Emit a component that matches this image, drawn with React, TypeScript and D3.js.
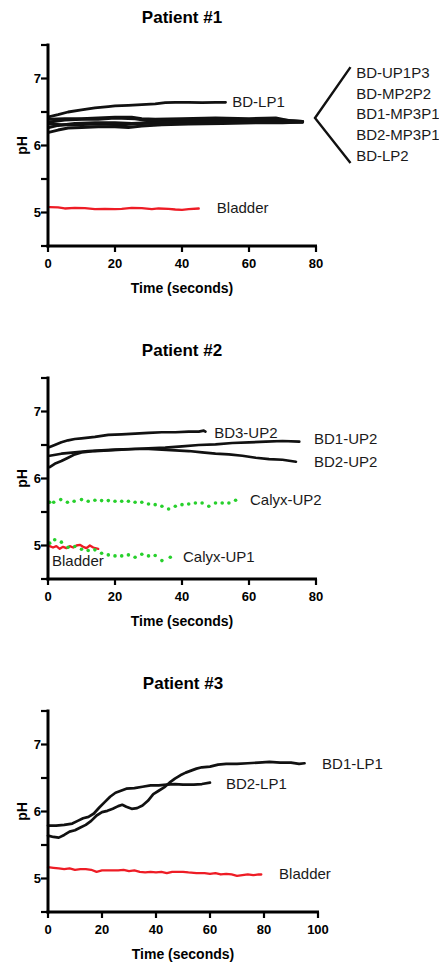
import React from 'react';
import * as d3 from 'd3';

type Pt = [number, number];

// ---- Patient #1 ----
const p1BDLP1: Pt[] = [[0.5, 6.43], [3, 6.46], [6, 6.5], [10, 6.53], [14, 6.56], [18, 6.58], [20, 6.59], [24, 6.6], [28, 6.61], [32, 6.62], [35, 6.64], [38, 6.645], [42, 6.645], [46, 6.64], [50, 6.645], [53, 6.645]];
const p1BDUP1P3: Pt[] = [[0.5, 6.39], [5, 6.4], [10, 6.4], [15, 6.41], [20, 6.42], [25, 6.42], [28, 6.4], [32, 6.39], [40, 6.4], [50, 6.41], [60, 6.4], [68, 6.41], [72, 6.37], [76, 6.36]];
const p1BDMP2P2: Pt[] = [[0.5, 6.35], [5, 6.38], [10, 6.39], [15, 6.39], [20, 6.41], [26, 6.4], [30, 6.37], [40, 6.38], [50, 6.39], [60, 6.38], [70, 6.38], [76, 6.36]];
const p1BD1MP3P1: Pt[] = [[0.5, 6.32], [4, 6.31], [8, 6.31], [15, 6.32], [22, 6.31], [28, 6.33], [36, 6.35], [46, 6.36], [56, 6.36], [66, 6.36], [76, 6.35]];
const p1BD2MP3P1: Pt[] = [[0.5, 6.27], [3, 6.3], [8, 6.33], [14, 6.34], [20, 6.34], [25, 6.33], [30, 6.34], [40, 6.35], [50, 6.35], [60, 6.35], [70, 6.35], [76, 6.35]];
const p1BDLP2: Pt[] = [[0.5, 6.2], [3, 6.23], [6, 6.26], [10, 6.27], [15, 6.28], [20, 6.28], [24, 6.27], [28, 6.29], [34, 6.31], [42, 6.32], [52, 6.33], [62, 6.34], [70, 6.34], [76, 6.35]];
const p1Bladder: Pt[] = [[0.5, 5.08], [3, 5.075], [5, 5.06], [8, 5.07], [11, 5.065], [14, 5.05], [17, 5.055], [20, 5.05], [22, 5.055], [25, 5.07], [28, 5.065], [31, 5.05], [33, 5.06], [36, 5.055], [38, 5.045], [40, 5.04], [42, 5.05], [45, 5.06]];
const p1BracketNames = ['BD-UP1P3', 'BD-MP2P2', 'BD1-MP3P1', 'BD2-MP3P1', 'BD-LP2'];

// ---- Patient #2 ----
const p2BD3UP2: Pt[] = [[0.5, 6.47], [2, 6.5], [4, 6.54], [6, 6.57], [8, 6.59], [10, 6.6], [14, 6.62], [18, 6.65], [22, 6.66], [26, 6.67], [30, 6.68], [34, 6.69], [38, 6.69], [42, 6.7], [45, 6.7], [46.5, 6.715], [47, 6.7]];
const p2BD1UP2: Pt[] = [[0.5, 6.34], [4, 6.37], [8, 6.39], [12, 6.41], [16, 6.42], [20, 6.43], [25, 6.44], [30, 6.45], [35, 6.46], [40, 6.48], [45, 6.5], [50, 6.51], [55, 6.53], [60, 6.54], [65, 6.55], [70, 6.56], [75, 6.55]];
const p2BD2UP2: Pt[] = [[0.5, 6.17], [2, 6.22], [4, 6.26], [6, 6.31], [8, 6.36], [10, 6.39], [14, 6.41], [18, 6.42], [22, 6.43], [26, 6.44], [30, 6.44], [34, 6.43], [38, 6.42], [42, 6.41], [46, 6.39], [50, 6.37], [54, 6.36], [58, 6.34], [62, 6.31], [66, 6.29], [70, 6.28], [74, 6.25]];
const p2CalyxUP2: Pt[] = [[0.5, 5.645], [1.7, 5.645], [3.8, 5.685], [5.8, 5.645], [7.8, 5.66], [10, 5.685], [12, 5.66], [14, 5.675], [16, 5.67], [18, 5.67], [20, 5.66], [22, 5.66], [24, 5.66], [26, 5.645], [28, 5.645], [30, 5.62], [32, 5.61], [34, 5.585], [36, 5.545], [38, 5.585], [40, 5.61], [42, 5.62], [44, 5.635], [46, 5.635], [48, 5.585], [50, 5.635], [52, 5.635], [54, 5.635], [56, 5.675]];
const p2CalyxUP1: Pt[] = [[0.5, 5.035], [2, 5.085], [4, 5.05], [6, 4.975], [8, 4.985], [10, 4.945], [12, 4.925], [14, 4.935], [16, 4.885], [18, 4.86], [20, 4.845], [22, 4.845], [24, 4.86], [26, 4.825], [28, 4.87], [30, 4.845], [32, 4.85], [34, 4.775], [36.5, 4.825]];
const p2Bladder: Pt[] = [[0.5, 4.99], [1.5, 4.97], [2.5, 4.99], [3.5, 4.95], [4.5, 4.98], [5.5, 4.96], [6.5, 4.99], [7.5, 4.97], [8.5, 5.0], [9.5, 5.01], [10.5, 4.98], [11.5, 4.96], [12.5, 5.0], [13.5, 4.97], [15, 4.95]];

// ---- Patient #3 ----
const p3BD1LP1: Pt[] = [[0, 5.64], [2, 5.62], [4, 5.61], [6, 5.65], [8, 5.7], [10, 5.72], [12, 5.76], [14, 5.8], [16, 5.86], [18, 5.94], [20, 5.99], [22, 6.01], [24, 6.04], [26, 6.08], [27.5, 6.1], [29, 6.07], [31, 6.04], [33, 6.05], [35, 6.09], [37, 6.16], [39, 6.26], [41, 6.31], [43, 6.36], [45, 6.43], [47, 6.49], [49, 6.54], [51, 6.58], [53, 6.61], [55, 6.64], [57, 6.66], [60, 6.67], [63, 6.7], [66, 6.71], [70, 6.71], [74, 6.72], [78, 6.73], [82, 6.74], [86, 6.73], [90, 6.73], [93, 6.71], [95, 6.72]];
const p3BD2LP1: Pt[] = [[0, 5.79], [3, 5.79], [6, 5.8], [9, 5.82], [11, 5.86], [13, 5.9], [15, 5.92], [17, 5.97], [19, 6.06], [21, 6.14], [23, 6.22], [25, 6.28], [27, 6.31], [29, 6.34], [32, 6.35], [35, 6.37], [38, 6.39], [41, 6.39], [44, 6.4], [47, 6.41], [50, 6.4], [54, 6.4], [57, 6.41], [60, 6.43]];
const p3Bladder: Pt[] = [[0, 5.17], [2, 5.16], [4, 5.15], [6, 5.14], [8, 5.15], [10, 5.13], [12, 5.14], [14, 5.14], [16, 5.13], [18, 5.1], [20, 5.12], [23, 5.12], [26, 5.12], [28, 5.13], [30, 5.11], [32, 5.12], [34, 5.1], [36, 5.09], [38, 5.1], [40, 5.09], [42, 5.1], [44, 5.08], [46, 5.1], [48, 5.1], [50, 5.1], [52, 5.09], [55, 5.08], [58, 5.08], [60, 5.07], [62, 5.08], [64, 5.06], [66, 5.07], [68, 5.06], [70, 5.04], [72, 5.05], [74, 5.06], [76, 5.05], [78, 5.06], [79, 5.06]];

const yTicks = [4.5, 5, 5.5, 6, 6.5, 7, 7.5];
const BLACK = '#111';
const RED = '#ee1c25';
const GREEN = '#27d02c';
const FONT = '"Liberation Sans", Arial, Helvetica, sans-serif';

type Label = { text: string; t: number; ph: number };
type PanelDef = {
  title: string;
  top: number;
  xMax: number;
  xTicks: number[];
  lines: { data: Pt[]; color: string; width: number }[];
  dots: { data: Pt[]; color: string }[];
  labels: Label[];
  bracket?: boolean;
};

const panels: PanelDef[] = [
  {
    title: 'Patient #1', top: 45, xMax: 80, xTicks: [0, 20, 40, 60, 80],
    lines: [
      { data: p1BDLP1, color: BLACK, width: 2.8 },
      { data: p1BDUP1P3, color: BLACK, width: 3 },
      { data: p1BDMP2P2, color: BLACK, width: 3 },
      { data: p1BD1MP3P1, color: BLACK, width: 3 },
      { data: p1BD2MP3P1, color: BLACK, width: 3 },
      { data: p1BDLP2, color: BLACK, width: 3 },
      { data: p1Bladder, color: RED, width: 2.3 },
    ],
    dots: [],
    labels: [{ text: 'BD-LP1', t: 55, ph: 6.65 }, { text: 'Bladder', t: 50.4, ph: 5.08 }],
    bracket: true,
  },
  {
    title: 'Patient #2', top: 378, xMax: 80, xTicks: [0, 20, 40, 60, 80],
    lines: [
      { data: p2BD3UP2, color: BLACK, width: 2.7 },
      { data: p2BD1UP2, color: BLACK, width: 2.7 },
      { data: p2BD2UP2, color: BLACK, width: 2.7 },
      { data: p2Bladder, color: RED, width: 2.3 },
    ],
    dots: [{ data: p2CalyxUP2, color: GREEN }, { data: p2CalyxUP1, color: GREEN }],
    labels: [
      { text: 'BD3-UP2', t: 49.6, ph: 6.69 },
      { text: 'BD1-UP2', t: 79.4, ph: 6.6 },
      { text: 'BD2-UP2', t: 79.4, ph: 6.25 },
      { text: 'Calyx-UP2', t: 60.3, ph: 5.68 },
      { text: 'Calyx-UP1', t: 40.3, ph: 4.84 },
      { text: 'Bladder', t: 1.2, ph: 4.77 },
    ],
  },
  {
    title: 'Patient #3', top: 711, xMax: 100, xTicks: [0, 20, 40, 60, 80, 100],
    lines: [
      { data: p3BD1LP1, color: BLACK, width: 2.7 },
      { data: p3BD2LP1, color: BLACK, width: 2.7 },
      { data: p3Bladder, color: RED, width: 2.3 },
    ],
    dots: [],
    labels: [
      { text: 'BD1-LP1', t: 101.5, ph: 6.72 },
      { text: 'BD2-LP1', t: 65.9, ph: 6.41 },
      { text: 'Bladder', t: 85.6, ph: 5.07 },
    ],
  },
];

function Panel({ p }: { p: PanelDef }) {
  const left = 48;
  const right = p.xMax === 100 ? 318 : 316;
  const h = 201;
  const x = d3.scaleLinear().domain([0, p.xMax]).range([left, right]);
  const y = d3.scaleLinear().domain([4.5, 7.5]).range([p.top + h, p.top]);
  const line = d3.line<Pt>().x(d => x(d[0])).y(d => y(d[1])).curve(d3.curveLinear);
  const bottom = p.top + h;
  const cx = (left + right) / 2;

  // bracket for the bundle in panel 1
  const apex: Pt = [79.7, 6.41];
  const upEnd: Pt = [90.3, 7.17];
  const lowEnd: Pt = [90.3, 5.74];
  const bracketLabelY = d3.scaleLinear().domain([0, p1BracketNames.length - 1]).range([7.09, 5.85]);

  return (
    <g fontFamily={FONT}>
      <text x={cx} y={p.top - 22} textAnchor="middle" fontWeight="bold" fontSize={17}>{p.title}</text>
      {p.lines.map((l, i) => (
        <path key={i} d={line(l.data) || ''} fill="none" stroke={l.color} strokeWidth={l.width} strokeLinejoin="round" strokeLinecap="round" />
      ))}
      {p.dots.map((s, i) => (
        <g key={i} fill={s.color}>
          {s.data.map((d, j) => <circle key={j} cx={x(d[0])} cy={y(d[1])} r={1.8} />)}
        </g>
      ))}
      {p.labels.map((l, i) => (
        <text key={i} x={x(l.t)} y={y(l.ph)} dy="0.36em" fontSize={15} fill="#1a1a1a">{l.text}</text>
      ))}
      {p.bracket && (
        <g>
          <path d={`M${x(upEnd[0])},${y(upEnd[1])}L${x(apex[0])},${y(apex[1])}L${x(lowEnd[0])},${y(lowEnd[1])}`} fill="none" stroke={BLACK} strokeWidth={2.4} />
          {p1BracketNames.map((n, i) => (
            <text key={n} x={x(92)} y={y(bracketLabelY(i))} dy="0.36em" fontSize={15} fill="#1a1a1a">{n}</text>
          ))}
        </g>
      )}
      {/* y axis */}
      <line x1={left} x2={left} y1={p.top - 1.5} y2={bottom + 1.5} stroke="#000" strokeWidth={3} />
      {yTicks.map(t => (
        <line key={t} x1={left - 7} x2={left} y1={y(t)} y2={y(t)} stroke="#000" strokeWidth={2.2} />
      ))}
      {yTicks.filter(t => Number.isInteger(t)).map(t => (
        <text key={t} x={left - 7} y={y(t)} dy="0.36em" textAnchor="end" fontWeight="bold" fontSize={13}>{t}</text>
      ))}
      {/* x axis */}
      <line x1={left - 1.5} x2={right + 1} y1={bottom} y2={bottom} stroke="#000" strokeWidth={3} />
      {p.xTicks.map(t => (
        <g key={t}>
          <line x1={x(t)} x2={x(t)} y1={bottom} y2={bottom + 6} stroke="#000" strokeWidth={2.2} />
          <text x={x(t)} y={bottom + 22} textAnchor="middle" fontWeight="bold" fontSize={13}>{t}</text>
        </g>
      ))}
      <text x={cx} y={bottom + 47} textAnchor="middle" fontWeight="bold" fontSize={14}>Time (seconds)</text>
      <text transform={`translate(27,${p.top + h / 2}) rotate(-90)`} textAnchor="middle" fontWeight="bold" fontSize={14}>pH</text>
    </g>
  );
}

export default function App() {
  return (
    <svg width={439} height={970} viewBox="0 0 439 970" style={{ position: 'absolute', left: 0, top: 0, background: '#fff' }}>
      <rect width={439} height={970} fill="#fff" />
      {panels.map(p => <Panel key={p.title} p={p} />)}
    </svg>
  );
}
